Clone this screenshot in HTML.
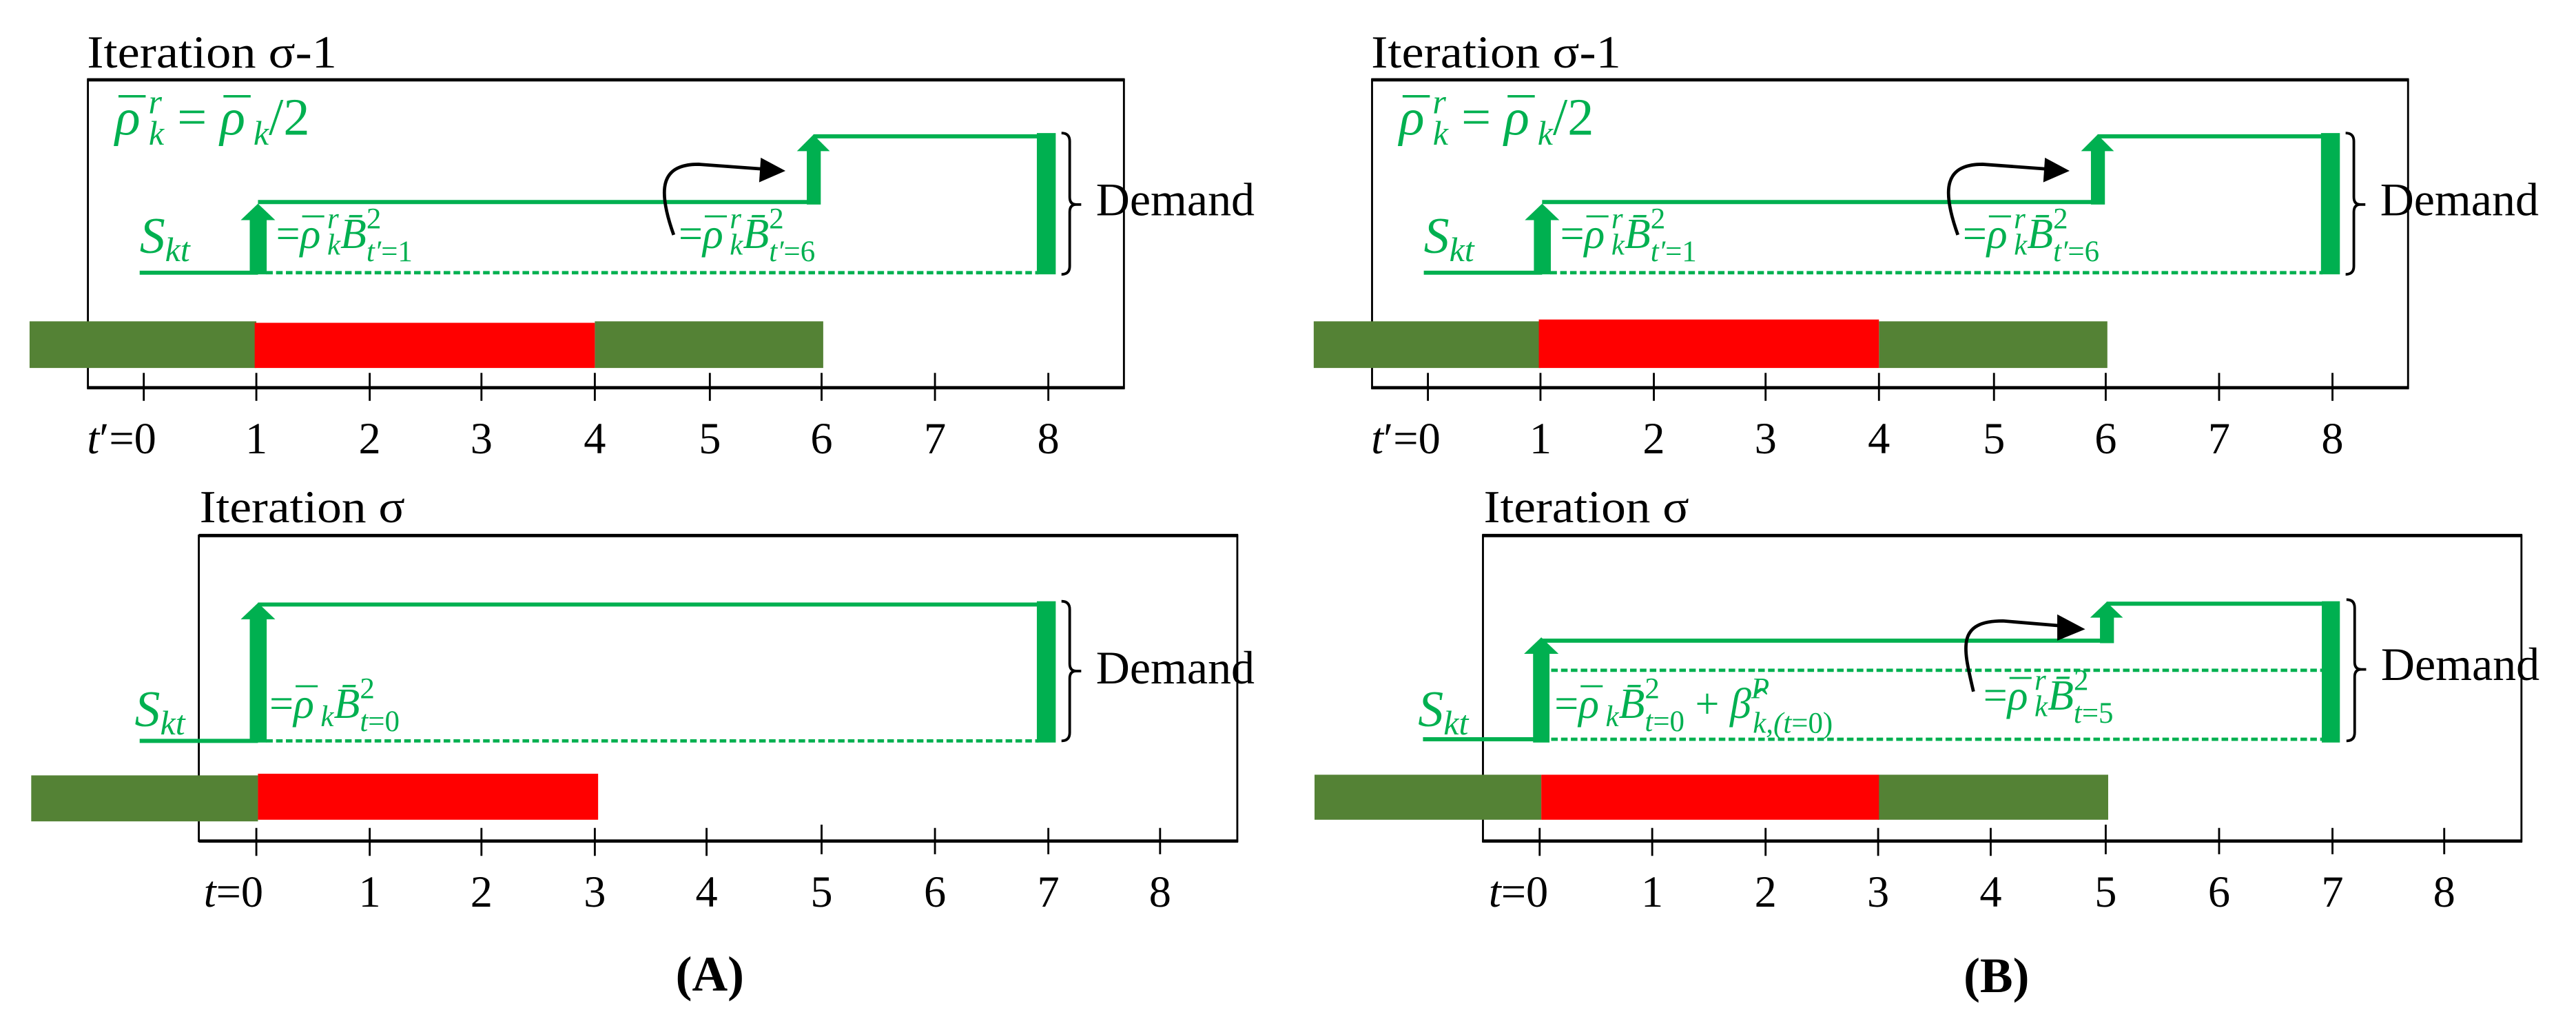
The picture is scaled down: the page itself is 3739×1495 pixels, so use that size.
<!DOCTYPE html>
<html><head><meta charset="utf-8"><style>
html,body{margin:0;padding:0;background:#fff}
svg{display:block}
.b{font-family:"Liberation Serif",serif;fill:#000}
.g{font-family:"Liberation Serif","DejaVu Serif",serif;fill:#00B050;font-style:italic}
.n{font-style:normal}
</style></head><body>
<svg width="3739" height="1495" viewBox="0 0 1567.7 627" preserveAspectRatio="none" xmlns="http://www.w3.org/2000/svg">
<rect width="1567.7" height="627" fill="#fff"/>

<!-- ============ A TOP ============ -->
<g>
<text class="b" x="53" y="41" font-size="28" textLength="152" lengthAdjust="spacingAndGlyphs">Iteration σ-1</text>
<rect x="53.5" y="48.6" width="630.5" height="187.5" fill="none" stroke="#000" stroke-width="1.2"/>
<line x1="53" y1="48.6" x2="684.5" y2="48.6" stroke="#000" stroke-width="2"/>
<line x1="53" y1="236" x2="684.5" y2="236" stroke="#000" stroke-width="2"/>
<rect x="18" y="195.6" width="138" height="28.4" fill="#548235"/>
<rect x="362" y="195.6" width="139" height="28.4" fill="#548235"/>
<rect x="155" y="196.5" width="207" height="27.5" fill="#FF0000"/>
<g stroke="#000" stroke-width="1.2">
<line x1="87.5" y1="227" x2="87.5" y2="244"/><line x1="156" y1="227" x2="156" y2="244"/><line x1="225" y1="227" x2="225" y2="244"/><line x1="293" y1="227" x2="293" y2="244"/><line x1="362" y1="227" x2="362" y2="244"/><line x1="432" y1="227" x2="432" y2="244"/><line x1="500" y1="227" x2="500" y2="244"/><line x1="569" y1="227" x2="569" y2="244"/><line x1="638" y1="227" x2="638" y2="244"/>
</g>
<g class="b" font-size="27" text-anchor="middle">
<text x="156" y="276">1</text><text x="225" y="276">2</text><text x="293" y="276">3</text><text x="362" y="276">4</text><text x="432" y="276">5</text><text x="500" y="276">6</text><text x="569" y="276">7</text><text x="638" y="276">8</text>
</g>
<text class="b" x="53" y="276" font-size="27"><tspan font-style="italic">t</tspan>′=0</text>
<g stroke="#00B050" stroke-width="2.5" fill="none">
<path d="M85 166 H157"/>
<path d="M157 123 H495"/>
<path d="M495 83 H632"/>
<path d="M162 166 H632" stroke-width="2" stroke-dasharray="4 2"/>
</g>
<g fill="#00B050">
<rect x="152" y="133" width="10.3" height="34"/>
<polygon points="146.5,134 157,124 167.5,134"/>
<rect x="491" y="91" width="8.5" height="33.5"/>
<polygon points="485,92 495,82 505,92"/>
<rect x="631" y="81" width="11.5" height="86"/>
</g>
<path d="M646 81 Q651 81 651 86 V120 Q651 124.5 655 124.5 Q651 124.5 651 129 V162 Q651 167 646 167 M652 124.5 H658" fill="none" stroke="#000" stroke-width="1.6"/>
<text class="b" x="667" y="131" font-size="28.5">Demand</text>
<path d="M410 143 C400 115 402 100 425 100 L466 103" fill="none" stroke="#000" stroke-width="2"/>
<polygon points="463,96 478,104 462,111" fill="#000"/>
<text class="g" x="70" y="82" font-size="32">ρ<tspan class="n" dx="-13">¯</tspan><tspan dx="2" dy="-13" font-size="21">r</tspan><tspan dx="-8" dy="19" font-size="21">k</tspan><tspan class="n" dy="-6"> = </tspan>ρ<tspan class="n" dx="-13">¯</tspan><tspan dx="2" dy="6" font-size="21">k</tspan><tspan class="n" dy="-6">/2</tspan></text>
<text class="g" x="85" y="154" font-size="31">S<tspan dy="5" font-size="21">kt</tspan></text>
<text class="g" x="168" y="151" font-size="26"><tspan class="n">=</tspan>ρ<tspan class="n" dx="-11">¯</tspan><tspan dx="2" dy="-12" font-size="18">r</tspan><tspan dx="-7" dy="16" font-size="18">k</tspan><tspan dy="-4">B̄</tspan><tspan class="n" dy="-12" font-size="18">2</tspan><tspan dx="-9" dy="20" font-size="18">t′<tspan class="n">=1</tspan></tspan></text>
<text class="g" x="413" y="151" font-size="26"><tspan class="n">=</tspan>ρ<tspan class="n" dx="-11">¯</tspan><tspan dx="2" dy="-12" font-size="18">r</tspan><tspan dx="-7" dy="16" font-size="18">k</tspan><tspan dy="-4">B̄</tspan><tspan class="n" dy="-12" font-size="18">2</tspan><tspan dx="-9" dy="20" font-size="18">t′<tspan class="n">=6</tspan></tspan></text>
</g>

<!-- ============ B TOP ============ -->
<g transform="translate(781.5,0)">
<text class="b" x="53" y="41" font-size="28" textLength="152" lengthAdjust="spacingAndGlyphs">Iteration σ-1</text>
<rect x="53.5" y="48.6" width="630.5" height="187.5" fill="none" stroke="#000" stroke-width="1.2"/>
<line x1="53" y1="48.6" x2="684.5" y2="48.6" stroke="#000" stroke-width="2"/>
<line x1="53" y1="236" x2="684.5" y2="236" stroke="#000" stroke-width="2"/>
<rect x="18" y="195.6" width="138" height="28.4" fill="#548235"/>
<rect x="362" y="195.6" width="139" height="28.4" fill="#548235"/>
<rect x="155" y="194.5" width="207" height="29.5" fill="#FF0000"/>
<g stroke="#000" stroke-width="1.2">
<line x1="87.5" y1="227" x2="87.5" y2="244"/><line x1="156" y1="227" x2="156" y2="244"/><line x1="225" y1="227" x2="225" y2="244"/><line x1="293" y1="227" x2="293" y2="244"/><line x1="362" y1="227" x2="362" y2="244"/><line x1="432" y1="227" x2="432" y2="244"/><line x1="500" y1="227" x2="500" y2="244"/><line x1="569" y1="227" x2="569" y2="244"/><line x1="638" y1="227" x2="638" y2="244"/>
</g>
<g class="b" font-size="27" text-anchor="middle">
<text x="156" y="276">1</text><text x="225" y="276">2</text><text x="293" y="276">3</text><text x="362" y="276">4</text><text x="432" y="276">5</text><text x="500" y="276">6</text><text x="569" y="276">7</text><text x="638" y="276">8</text>
</g>
<text class="b" x="53" y="276" font-size="27"><tspan font-style="italic">t</tspan>′=0</text>
<g stroke="#00B050" stroke-width="2.5" fill="none">
<path d="M85 166 H157"/>
<path d="M157 123 H495"/>
<path d="M495 83 H632"/>
<path d="M162 166 H632" stroke-width="2" stroke-dasharray="4 2"/>
</g>
<g fill="#00B050">
<rect x="152" y="133" width="10.3" height="34"/>
<polygon points="146.5,134 157,124 167.5,134"/>
<rect x="491" y="91" width="8.5" height="33.5"/>
<polygon points="485,92 495,82 505,92"/>
<rect x="631" y="81" width="11.5" height="86"/>
</g>
<path d="M646 81 Q651 81 651 86 V120 Q651 124.5 655 124.5 Q651 124.5 651 129 V162 Q651 167 646 167 M652 124.5 H658" fill="none" stroke="#000" stroke-width="1.6"/>
<text class="b" x="667" y="131" font-size="28.5">Demand</text>
<path d="M410 143 C400 115 402 100 425 100 L466 103" fill="none" stroke="#000" stroke-width="2"/>
<polygon points="463,96 478,104 462,111" fill="#000"/>
<text class="g" x="70" y="82" font-size="32">ρ<tspan class="n" dx="-13">¯</tspan><tspan dx="2" dy="-13" font-size="21">r</tspan><tspan dx="-8" dy="19" font-size="21">k</tspan><tspan class="n" dy="-6"> = </tspan>ρ<tspan class="n" dx="-13">¯</tspan><tspan dx="2" dy="6" font-size="21">k</tspan><tspan class="n" dy="-6">/2</tspan></text>
<text class="g" x="85" y="154" font-size="31">S<tspan dy="5" font-size="21">kt</tspan></text>
<text class="g" x="168" y="151" font-size="26"><tspan class="n">=</tspan>ρ<tspan class="n" dx="-11">¯</tspan><tspan dx="2" dy="-12" font-size="18">r</tspan><tspan dx="-7" dy="16" font-size="18">k</tspan><tspan dy="-4">B̄</tspan><tspan class="n" dy="-12" font-size="18">2</tspan><tspan dx="-9" dy="20" font-size="18">t′<tspan class="n">=1</tspan></tspan></text>
<text class="g" x="413" y="151" font-size="26"><tspan class="n">=</tspan>ρ<tspan class="n" dx="-11">¯</tspan><tspan dx="2" dy="-12" font-size="18">r</tspan><tspan dx="-7" dy="16" font-size="18">k</tspan><tspan dy="-4">B̄</tspan><tspan class="n" dy="-12" font-size="18">2</tspan><tspan dx="-9" dy="20" font-size="18">t′<tspan class="n">=6</tspan></tspan></text>
</g>

<!-- ============ A BOTTOM ============ -->
<text class="b" x="121.5" y="318" font-size="28" textLength="125" lengthAdjust="spacingAndGlyphs">Iteration σ</text>
<rect x="121" y="326" width="632" height="186" fill="none" stroke="#000" stroke-width="1.2"/>
<line x1="121" y1="326" x2="753.5" y2="326" stroke="#000" stroke-width="2"/>
<line x1="121" y1="512" x2="753.5" y2="512" stroke="#000" stroke-width="2"/>
<rect x="19" y="472" width="138" height="28" fill="#548235"/>
<rect x="157" y="471" width="207" height="28" fill="#FF0000"/>
<g stroke="#000" stroke-width="1.2">
<line x1="156" y1="504" x2="156" y2="521"/><line x1="225" y1="504" x2="225" y2="521"/><line x1="293" y1="504" x2="293" y2="521"/><line x1="362" y1="504" x2="362" y2="521"/><line x1="430" y1="504" x2="430" y2="521"/><line x1="500" y1="502" x2="500" y2="520"/><line x1="569" y1="504" x2="569" y2="520"/><line x1="638" y1="504" x2="638" y2="520"/><line x1="706" y1="504" x2="706" y2="520"/>
</g>
<g class="b" font-size="27" text-anchor="middle">
<text x="225" y="552">1</text><text x="293" y="552">2</text><text x="362" y="552">3</text><text x="430" y="552">4</text><text x="500" y="552">5</text><text x="569" y="552">6</text><text x="638" y="552">7</text><text x="706" y="552">8</text>
</g>
<text class="b" x="124" y="552" font-size="27"><tspan font-style="italic">t</tspan>=0</text>
<g stroke="#00B050" stroke-width="2.5" fill="none">
<path d="M85 451 H157"/>
<path d="M157 368 H632"/>
<path d="M162 451 H632" stroke-width="2" stroke-dasharray="4 2"/>
</g>
<g fill="#00B050">
<rect x="152" y="376" width="10.3" height="76"/>
<polygon points="146.5,377 157,367 167.5,377"/>
<rect x="631" y="366" width="11.5" height="86"/>
</g>
<path d="M646 366 Q651 366 651 371 V404 Q651 408.5 655 408.5 Q651 408.5 651 413 V446 Q651 451 646 451 M652 408.5 H658" fill="none" stroke="#000" stroke-width="1.6"/>
<text class="b" x="667" y="416" font-size="28.5">Demand</text>
<text class="g" x="82" y="442" font-size="31">S<tspan dy="5" font-size="21">kt</tspan></text>
<text class="g" x="164" y="437" font-size="26"><tspan class="n">=</tspan>ρ<tspan class="n" dx="-11">¯</tspan><tspan dx="2" dy="5" font-size="18">k</tspan><tspan dy="-5">B̄</tspan><tspan class="n" dy="-12" font-size="18">2</tspan><tspan dx="-9" dy="20" font-size="18">t<tspan class="n">=0</tspan></tspan></text>
<text class="b" x="432" y="603" font-size="30" font-weight="bold" text-anchor="middle">(A)</text>

<!-- ============ B BOTTOM ============ -->
<text class="b" x="903" y="318" font-size="28" textLength="125" lengthAdjust="spacingAndGlyphs">Iteration σ</text>
<rect x="902.5" y="326" width="632" height="186" fill="none" stroke="#000" stroke-width="1.2"/>
<line x1="902" y1="326" x2="1535" y2="326" stroke="#000" stroke-width="2"/>
<line x1="902" y1="512" x2="1535" y2="512" stroke="#000" stroke-width="2"/>
<rect x="800" y="471.6" width="138" height="27.4" fill="#548235"/>
<rect x="1143" y="471.6" width="140" height="27.4" fill="#548235"/>
<rect x="938" y="471.6" width="205.5" height="27.4" fill="#FF0000"/>
<g stroke="#000" stroke-width="1.2">
<line x1="937" y1="504" x2="937" y2="521"/><line x1="1005.5" y1="504" x2="1005.5" y2="521"/><line x1="1074.5" y1="504" x2="1074.5" y2="521"/><line x1="1143" y1="504" x2="1143" y2="521"/><line x1="1211.5" y1="504" x2="1211.5" y2="521"/><line x1="1281.5" y1="502" x2="1281.5" y2="520"/><line x1="1350.5" y1="504" x2="1350.5" y2="520"/><line x1="1419.5" y1="504" x2="1419.5" y2="520"/><line x1="1487.5" y1="504" x2="1487.5" y2="520"/>
</g>
<g class="b" font-size="27" text-anchor="middle">
<text x="1005.5" y="552">1</text><text x="1074.5" y="552">2</text><text x="1143" y="552">3</text><text x="1211.5" y="552">4</text><text x="1281.5" y="552">5</text><text x="1350.5" y="552">6</text><text x="1419.5" y="552">7</text><text x="1487.5" y="552">8</text>
</g>
<text class="b" x="906" y="552" font-size="27"><tspan font-style="italic">t</tspan>=0</text>
<g stroke="#00B050" stroke-width="2.5" fill="none">
<path d="M866 450 H938"/>
<path d="M938 390 H1286"/>
<path d="M1282 367.5 H1414"/>
<path d="M944 408 H1414" stroke-width="2" stroke-dasharray="4 2"/>
<path d="M944 450 H1414" stroke-width="2" stroke-dasharray="4 2"/>
</g>
<g fill="#00B050">
<rect x="933" y="397" width="10" height="55"/>
<polygon points="927.5,398 938,388 948.5,398"/>
<rect x="1278" y="375" width="8.5" height="16.5"/>
<polygon points="1272,376 1282,366.5 1292,376"/>
<rect x="1413" y="366" width="11" height="86"/>
</g>
<path d="M1428 365 Q1433 365 1433 370 V403 Q1433 407.5 1437 407.5 Q1433 407.5 1433 412 V446 Q1433 451 1428 451 M1434 407.5 H1440" fill="none" stroke="#000" stroke-width="1.6"/>
<text class="b" x="1449" y="414" font-size="28.5">Demand</text>
<path d="M1201 421 C1195 395 1190 378 1219 378 L1255 381" fill="none" stroke="#000" stroke-width="2"/>
<polygon points="1252,374 1269,383 1252,390" fill="#000"/>
<text class="g" x="863" y="442" font-size="31">S<tspan dy="5" font-size="21">kt</tspan></text>
<text class="g" x="946" y="437" font-size="26"><tspan class="n">=</tspan>ρ<tspan class="n" dx="-11">¯</tspan><tspan dx="2" dy="5" font-size="18">k</tspan><tspan dy="-5">B̄</tspan><tspan class="n" dy="-12" font-size="18">2</tspan><tspan dx="-9" dy="20" font-size="18">t<tspan class="n">=0</tspan></tspan><tspan class="n" dy="-8"> + </tspan>β̂<tspan dy="-12" font-size="18">P</tspan><tspan dx="-10" dy="21" font-size="18">k,(t<tspan class="n">=0)</tspan></tspan></text>
<text class="g" x="1207" y="432" font-size="26"><tspan class="n">=</tspan>ρ<tspan class="n" dx="-11">¯</tspan><tspan dx="2" dy="-12" font-size="18">r</tspan><tspan dx="-7" dy="16" font-size="18">k</tspan><tspan dy="-4">B̄</tspan><tspan class="n" dy="-12" font-size="18">2</tspan><tspan dx="-9" dy="20" font-size="18">t<tspan class="n">=5</tspan></tspan></text>
<text class="b" x="1215" y="604" font-size="30" font-weight="bold" text-anchor="middle">(B)</text>
</svg>
</body></html>
